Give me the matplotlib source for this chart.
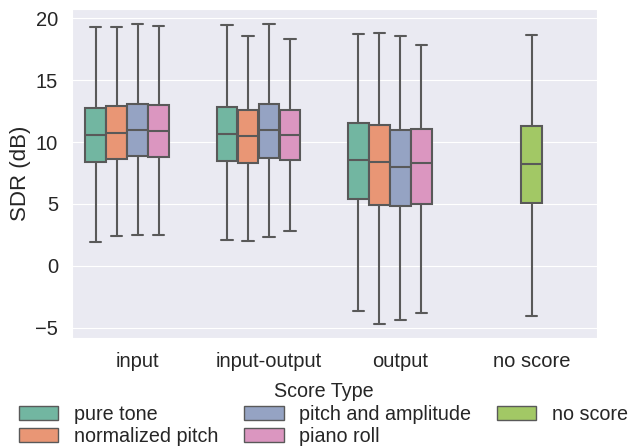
import colorsys

import matplotlib
matplotlib.use("Agg")
import matplotlib.pyplot as plt
import matplotlib.patches as mpatches
import seaborn as sns

# SDR summary per (location, score type): whisker low, Q1, median, Q3, whisker high
locations = ["input", "input-output", "output", "no score"]
score_types = ["pure tone", "normalized pitch", "pitch and amplitude", "piano roll", "no score"]

input_stats = {
    "pure tone":           [1.9, 8.36, 10.55, 12.79, 19.34],
    "normalized pitch":    [2.4, 8.66, 10.71, 12.92, 19.28],
    "pitch and amplitude": [2.46, 8.85, 10.95, 13.08, 19.53],
    "piano roll":          [2.46, 8.80, 10.92, 13.03, 19.42],
}
input_output_stats = {
    "pure tone":           [2.1, 8.47, 10.68, 12.87, 19.47],
    "normalized pitch":    [1.97, 8.28, 10.52, 12.57, 18.58],
    "pitch and amplitude": [2.3, 8.71, 10.98, 13.06, 19.53],
    "piano roll":          [2.78, 8.58, 10.57, 12.57, 18.31],
}
output_stats = {
    "pure tone":           [-3.64, 5.42, 8.53, 11.52, 18.72],
    "normalized pitch":    [-4.72, 4.91, 8.37, 11.38, 18.80],
    "pitch and amplitude": [-4.37, 4.83, 8.01, 11.00, 18.56],
    "piano roll":          [-3.85, 4.97, 8.31, 11.08, 17.88],
}
no_score_stats = {
    "no score":            [-4.05, 5.07, 8.25, 11.30, 18.67],
}
groups = [input_stats, input_output_stats, output_stats, no_score_stats]

sns.set_style("darkgrid")
plt.rcParams["font.family"] = ["Liberation Sans", "DejaVu Sans"]


def desaturate(color, prop):
    h, l, s = colorsys.rgb_to_hls(*color)
    return colorsys.hls_to_rgb(h, l, s * prop)


palette = [desaturate(c, 0.75) for c in sns.color_palette("Set2", len(score_types))]
lum = min(colorsys.rgb_to_hls(*c)[1] for c in palette) * 0.6
gray = (lum, lum, lum)
lw = 1.5

fig = plt.figure(figsize=(6.32, 4.46), dpi=100)
ax = fig.add_axes([0.114, 0.242, 0.831, 0.738])

n_hue = len(score_types)
box_w = 0.8 / n_hue
for i, grp in enumerate(groups):
    for name, (lo, q1, med, q3, hi) in grp.items():
        h = score_types.index(name)
        if len(grp) == 1:
            pos = i
        else:
            pos = i + (h - (n_hue - 1) / 2) * box_w
        st = dict(whislo=lo, q1=q1, med=med, q3=q3, whishi=hi, fliers=[])
        ax.bxp([st], positions=[pos], widths=box_w * 0.98, showfliers=False,
               patch_artist=True, capwidths=box_w * 0.55,
               boxprops=dict(facecolor=palette[h], edgecolor=gray, linewidth=lw),
               medianprops=dict(color=gray, linewidth=lw),
               whiskerprops=dict(color=gray, linewidth=lw),
               capprops=dict(color=gray, linewidth=lw))

ax.set_xlim(-0.5, len(locations) - 0.5)
ax.set_ylim(-5.85, 20.77)
ax.set_xticks(range(len(locations)))
ax.set_xticklabels(locations)
ax.set_yticks([-5, 0, 5, 10, 15, 20])
ax.xaxis.grid(False)
ax.tick_params(axis="both", labelsize=14.5, length=0)
ax.tick_params(axis="x", pad=10)
ax.tick_params(axis="y", pad=10)
ax.set_ylabel("SDR (dB)", fontsize=16, labelpad=3)

handles = [mpatches.Patch(facecolor=palette[k], edgecolor=gray, label=s)
           for k, s in enumerate(score_types)]
fig.legend(handles=handles, title="Score Type", ncol=3, loc="upper center",
           bbox_to_anchor=(0.512, 0.161), frameon=False, fontsize=14.2,
           title_fontsize=14.2, labelspacing=0.18, columnspacing=1.3,
           handletextpad=0.8, borderaxespad=0)

fig.savefig("out.png", dpi=100)
